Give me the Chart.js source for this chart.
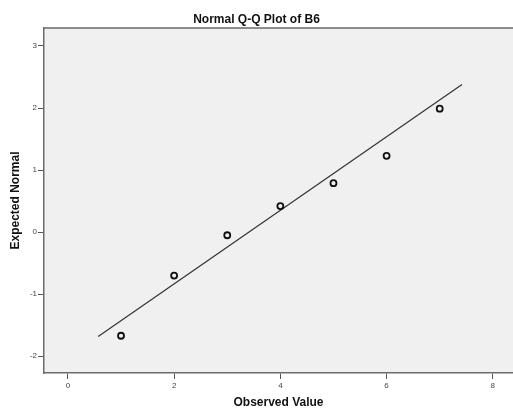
<!DOCTYPE html>
<html>
<head>
<meta charset="utf-8">
<title>Normal Q-Q Plot of B6</title>
<script src="https://cdn.jsdelivr.net/npm/chart.js@4/dist/chart.umd.min.js"></script>
<style>
  body { margin: 0; background: #fff; }
  canvas { display: block; }
</style>
</head>
<body>
<canvas id="chart" width="513" height="414"></canvas>
<script>
const observed = [1, 2, 3, 4, 5, 6, 7];
const expected = [-1.67, -0.70, -0.05, 0.42, 0.79, 1.23, 1.99];
const lineX = [0.57, 7.42];
const lineY = [-1.68, 2.38];
const xTicks = [0, 2, 4, 6, 8];
const yTicks = [-2, -1, 0, 1, 2, 3];

const plotFrame = {
  id: "plotFrame",
  beforeDraw: (chart) => {
    const { ctx, chartArea } = chart;
    ctx.save();
    ctx.fillStyle = "#f0f0f0";
    ctx.fillRect(chartArea.left, chartArea.top, chart.width - chartArea.left, chartArea.bottom - chartArea.top);
    ctx.restore();
  },
  afterDraw: (chart) => {
    const { ctx, chartArea } = chart;
    ctx.save();
    ctx.strokeStyle = "#6a6a6a";
    ctx.lineWidth = 1.5;
    ctx.beginPath();
    ctx.moveTo(chartArea.left, chartArea.top);
    ctx.lineTo(chart.width, chartArea.top);
    ctx.stroke();
    ctx.restore();
  },
};

const tickFont = { family: "'Liberation Sans', Arial, sans-serif", size: 8 };
const titleFont = { family: "'Liberation Sans', Arial, sans-serif", size: 12, weight: "bold" };

new Chart(document.getElementById("chart"), {
  type: "scatter",
  data: {
    datasets: [
      {
        label: "Observed",
        data: observed.map((x, i) => ({ x, y: expected[i] })),
        pointStyle: "circle",
        pointRadius: 3,
        pointBorderWidth: 1.8,
        borderColor: "#111",
        backgroundColor: "rgba(0,0,0,0)",
      },
      {
        label: "Fit",
        type: "line",
        data: lineX.map((x, i) => ({ x, y: lineY[i] })),
        borderColor: "#333",
        borderWidth: 1.2,
        pointRadius: 0,
        fill: false,
      },
    ],
  },
  options: {
    responsive: false,
    animation: false,
    layout: { padding: 0, autoPadding: false },
    plugins: {
      legend: { display: false },
      tooltip: { enabled: false },
      title: {
        display: true,
        text: "Normal Q-Q Plot of B6",
        color: "#111",
        font: titleFont,
        padding: { top: 12.8, bottom: 0.8 },
      },
    },
    scales: {
      x: {
        type: "linear",
        min: -0.45,
        max: 8.38,
        afterBuildTicks: (scale) => {
          scale.ticks = xTicks.map((value) => ({ value }));
        },
        afterFit: (scale) => {
          scale.height = 41;
        },
        grid: { drawOnChartArea: false, drawTicks: true, tickLength: 6, color: "#555" },
        border: { display: true, color: "#6a6a6a", width: 1.5 },
        ticks: { font: tickFont, color: "#444", padding: 2, maxRotation: 0, autoSkip: false },
        title: {
          display: true,
          text: "Observed Value",
          color: "#111",
          font: titleFont,
          padding: { top: 0, bottom: 4 },
        },
      },
      y: {
        type: "linear",
        min: -2.27,
        max: 3.29,
        afterBuildTicks: (scale) => {
          scale.ticks = yTicks.map((value) => ({ value }));
        },
        afterFit: (scale) => {
          scale.width = 44;
        },
        grid: { drawOnChartArea: false, drawTicks: true, tickLength: 6, color: "#555" },
        border: { display: true, color: "#6a6a6a", width: 1.5 },
        ticks: { font: tickFont, color: "#444", padding: 1, autoSkip: false },
        title: {
          display: true,
          text: "Expected Normal",
          color: "#111",
          font: titleFont,
          padding: { top: 8, bottom: 0 },
        },
      },
    },
  },
  plugins: [plotFrame],
});
</script>
</body>
</html>
